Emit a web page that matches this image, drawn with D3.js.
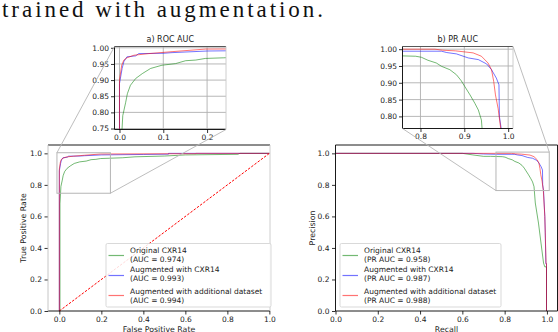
<!DOCTYPE html>
<html>
<head>
<meta charset="utf-8">
<script src="https://cdn.jsdelivr.net/npm/d3@7"></script>
<style>
  body { margin: 0; background: #fff; }
  svg { display: block; }
  text { font-family: "DejaVu Sans", sans-serif; }
  .title { font-family: "Liberation Serif", "Times New Roman", serif; font-weight: normal; }
</style>
</head>
<body>
<div id="main"></div>
<script>
// ROC curves: [false positive rate, true positive rate]
const rocOriginal = [[0,0],[0.003,0],[0.003,0.68],[0.0075,0.79],[0.014,0.83],[0.018,0.858],[0.025,0.884],[0.037,0.905],[0.052,0.92],[0.071,0.936],[0.097,0.946],[0.128,0.951],[0.151,0.96],[0.174,0.962],[0.196,0.967],[0.238,0.969],[0.3,0.972],[0.36,0.978],[0.5,0.983],[0.6,0.99],[0.85,0.994],[0.86,1],[1,1]];
const rocAugCxr = [[0,0],[0,0.889],[0.006,0.936],[0.01,0.957],[0.017,0.972],[0.037,0.975],[0.044,0.982],[0.1,0.983],[0.12,0.985],[0.2,0.99],[0.4,0.993],[0.52,0.995],[0.52,1],[1,1]];
const rocAugExtra = [[0,0],[0,0.9],[0.005,0.946],[0.01,0.962],[0.017,0.969],[0.033,0.977],[0.067,0.982],[0.12,0.988],[0.196,0.996],[0.65,0.998],[0.65,1],[1,1]];

// PR curves: [recall, precision]
const prOriginal = [[0,1],[0.6,1],[0.65,0.99],[0.7,0.981],[0.733,0.981],[0.789,0.979],[0.802,0.976],[0.817,0.967],[0.836,0.959],[0.848,0.949],[0.867,0.939],[0.882,0.924],[0.893,0.906],[0.901,0.889],[0.913,0.864],[0.924,0.839],[0.932,0.819],[0.939,0.789],[0.945,0.685],[0.96,0.558],[0.972,0.431],[0.984,0.304],[0.99,0.28],[0.998,0.28],[0.998,0]];
const prAugCxr = [[0,1],[0.65,1],[0.7,0.996],[0.758,0.994],[0.848,0.994],[0.86,0.99],[0.882,0.986],[0.909,0.974],[0.932,0.969],[0.951,0.956],[0.962,0.939],[0.973,0.914],[0.979,0.894],[0.98,0.8],[0.984,0.764],[0.99,0.6],[0.992,0.5],[0.995,0.3],[0.998,0.3],[0.998,0]];
const prAugExtra = [[0,1],[0.833,1],[0.85,0.997],[0.88,0.995],[0.92,0.989],[0.939,0.979],[0.954,0.959],[0.962,0.939],[0.967,0.904],[0.971,0.864],[0.977,0.824],[0.983,0.764],[0.99,0.6],[0.993,0.45],[0.996,0.3],[0.998,0.3],[0.998,0]];

const seriesNames = ["Original CXR14", "Augmented with CXR14", "Augmented with additional dataset"];
const rocAuc = ["0.974", "0.993", "0.994"];
const prAuc = ["0.958", "0.987", "0.988"];
const seriesColors = ["#008000", "#0000ff", "#ff0000"];
const legendColors = ["#73b973", "#7373ff", "#ff7373"];

const mainTicks = [0, 0.2, 0.4, 0.6, 0.8, 1.0];
const rocInsetXTicks = [0, 0.1, 0.2];
const rocInsetYTicks = [0.75, 0.80, 0.85, 0.90, 0.95, 1.00];
const prInsetXTicks = [0.8, 0.9, 1.0];
const prInsetYTicks = [0.80, 0.85, 0.90, 0.95, 1.00];

const svg = d3.select("#main").append("svg")
  .attr("width", 558).attr("height", 332);

svg.append("text")
  .attr("class", "title")
  .attr("x", 2).attr("y", 16.5)
  .attr("font-size", 23)
  .attr("fill", "#111")
  .attr("textLength", 321)
  .attr("lengthAdjust", "spacing")
  .text("trained with augmentation.");

const defs = svg.append("defs");
let clipId = 0;

function clipFor(x, y) {
  const id = "clip" + (clipId++);
  defs.append("clipPath").attr("id", id).append("rect")
    .attr("x", x.range()[0]).attr("y", y.range()[1])
    .attr("width", x.range()[1] - x.range()[0])
    .attr("height", y.range()[0] - y.range()[1]);
  return `url(#${id})`;
}

function drawCurves(g, x, y, sets) {
  const line = d3.line().x(d => x(d[0])).y(d => y(d[1]));
  const cg = g.append("g").attr("clip-path", clipFor(x, y));
  sets.forEach((s, i) => {
    cg.append("path")
      .attr("d", line(s))
      .attr("fill", "none")
      .attr("stroke", seriesColors[i])
      .attr("stroke-opacity", 0.55)
      .attr("stroke-width", 1);
  });
  return cg;
}

function spines(g, x, y, colors) {
  const [x0, x1] = x.range(), [y0, y1] = y.range();
  const sides = [
    [x0, y1, x1, y1, colors.top],
    [x0, y0, x1, y0, colors.bottom],
    [x0, y0, x0, y1, colors.left],
    [x1, y0, x1, y1, colors.right]
  ];
  sides.forEach(s => g.append("line")
    .attr("x1", s[0]).attr("y1", s[1]).attr("x2", s[2]).attr("y2", s[3])
    .attr("stroke", s[4]).attr("stroke-width", 0.9));
}

function styleAxis(a) {
  a.select(".domain").remove();
  a.selectAll(".tick line").attr("stroke", "#000").attr("stroke-width", 0.8);
  a.selectAll(".tick text").attr("font-size", 7.5).attr("fill", "#222")
    .attr("font-family", "DejaVu Sans, sans-serif");
}

function drawMain(opts) {
  const x = d3.scaleLinear().domain(opts.xDomain).range(opts.xRange);
  const y = d3.scaleLinear().domain([0, 1.053]).range([311, 145]);
  const g = svg.append("g");

  drawCurves(g, x, y, opts.sets);
  if (opts.diagonal) {
    g.append("line")
      .attr("x1", x(0)).attr("y1", y(0)).attr("x2", x(1)).attr("y2", y(1))
      .attr("stroke", "#ff0000").attr("stroke-width", 1)
      .attr("stroke-dasharray", "2.5,1.5");
  }

  const xa = g.append("g").attr("transform", `translate(0,${y.range()[0]})`)
    .call(d3.axisBottom(x).tickValues(mainTicks).tickFormat(d3.format(".1f")).tickSize(3.5).tickPadding(2));
  styleAxis(xa);
  const ya = g.append("g").attr("transform", `translate(${x.range()[0]},0)`)
    .call(d3.axisLeft(y).tickValues(mainTicks).tickFormat(d3.format(".1f")).tickSize(3.5).tickPadding(2.5));
  styleAxis(ya);
  spines(g, x, y, opts.spineColors);

  g.append("text")
    .attr("x", (x.range()[0] + x.range()[1]) / 2).attr("y", 332)
    .attr("text-anchor", "middle").attr("font-size", 7.8).attr("fill", "#222")
    .text(opts.xLabel);
  g.append("text")
    .attr("transform", `translate(${opts.yLabelX},${228}) rotate(-90)`)
    .attr("text-anchor", "middle").attr("font-size", 7.8).attr("fill", "#222")
    .text(opts.yLabel);

  // legend
  const lg = g.append("g");
  lg.append("rect")
    .attr("x", opts.legend.x).attr("y", 243.5)
    .attr("width", opts.legend.w).attr("height", 63.5)
    .attr("rx", 1.5)
    .attr("fill", "#fff").attr("fill-opacity", 0.85)
    .attr("stroke", "#cfcfcf").attr("stroke-width", 0.8);
  const rowY = [[250, 259], [269.5, 278.5], [291, 300]];
  const handleY = [255.5, 275.5, 295.5];
  seriesNames.forEach((name, i) => {
    lg.append("line")
      .attr("x1", opts.legend.x + 2.5).attr("x2", opts.legend.x + 18)
      .attr("y1", handleY[i]).attr("y2", handleY[i])
      .attr("stroke", legendColors[i]).attr("stroke-width", 1.2);
    const tx = opts.legend.x + 24;
    lg.append("text").attr("x", tx).attr("y", rowY[i][0]).attr("dy", "0.35em")
      .attr("font-size", 7.5).attr("fill", "#222").text(name);
    lg.append("text").attr("x", tx).attr("y", rowY[i][1]).attr("dy", "0.35em")
      .attr("font-size", 7.5).attr("fill", "#222").text(`(${opts.aucLabel} = ${opts.auc[i]})`);
  });
  return { x, y, g };
}

function drawInset(opts) {
  const x = d3.scaleLinear().domain(opts.xDomain).range(opts.xRange);
  const y = d3.scaleLinear().domain(opts.yDomain).range(opts.yRange);
  const g = svg.append("g");
  g.append("rect")
    .attr("x", opts.xRange[0]).attr("y", opts.yRange[1])
    .attr("width", opts.xRange[1] - opts.xRange[0])
    .attr("height", opts.yRange[0] - opts.yRange[1])
    .attr("fill", "#fff");

  // grid
  g.append("g").selectAll("line").data(opts.xTicks).join("line")
    .attr("x1", d => x(d)).attr("x2", d => x(d))
    .attr("y1", opts.yRange[0]).attr("y2", opts.yRange[1])
    .attr("stroke", "#b0b0b0").attr("stroke-width", 0.9);
  g.append("g").selectAll("line").data(opts.yTicks).join("line")
    .attr("x1", opts.xRange[0]).attr("x2", opts.xRange[1])
    .attr("y1", d => y(d)).attr("y2", d => y(d))
    .attr("stroke", "#b0b0b0").attr("stroke-width", 0.9);

  drawCurves(g, x, y, opts.sets);

  const xa = g.append("g").attr("transform", `translate(0,${opts.yRange[0]})`)
    .call(d3.axisBottom(x).tickValues(opts.xTicks).tickFormat(d3.format(".1f")).tickSize(3.5).tickPadding(1.5));
  styleAxis(xa);
  const ya = g.append("g").attr("transform", `translate(${opts.xRange[0]},0)`)
    .call(d3.axisLeft(y).tickValues(opts.yTicks).tickFormat(d3.format(".2f")).tickSize(3.5).tickPadding(2));
  styleAxis(ya);
  spines(g, x, y, { top: "#444", bottom: "#000", left: "#000", right: "#c8c8c8" });

  g.append("text")
    .attr("x", (opts.xRange[0] + opts.xRange[1]) / 2).attr("y", opts.yRange[1] - 7)
    .attr("dy", "0.35em")
    .attr("text-anchor", "middle").attr("font-size", 8).attr("fill", "#222")
    .text(opts.title);
  return { x, y, g };
}

function zoomMarks(main, inset, corners) {
  const [ix0, ix1] = inset.x.domain(), [iy0, iy1] = inset.y.domain();
  const g = svg.append("g");
  g.append("rect")
    .attr("x", main.x(ix0)).attr("y", main.y(iy1))
    .attr("width", main.x(ix1) - main.x(ix0))
    .attr("height", main.y(iy0) - main.y(iy1))
    .attr("fill", "none").attr("stroke", "#b5b5b5").attr("stroke-width", 1);
  corners.forEach(c => {
    const dx = c[0] === "l" ? ix0 : ix1;
    const dy = c[1] === "t" ? iy1 : iy0;
    g.append("line")
      .attr("x1", main.x(dx)).attr("y1", main.y(dy))
      .attr("x2", inset.x(dx)).attr("y2", inset.y(dy))
      .attr("stroke", "#b5b5b5").attr("stroke-width", 0.9);
  });
}

const rocMain = drawMain({
  xDomain: [-0.054, 1.003], xRange: [48, 270],
  sets: [rocOriginal, rocAugCxr, rocAugExtra], diagonal: true,
  xLabel: "False Positive Rate", yLabel: "True Positive Rate", yLabelX: 26,
  spineColors: { top: "#000", bottom: "#000", left: "#c0c0c0", right: "#c8c8c8" },
  legend: { x: 106, w: 165 }, aucLabel: "AUC", auc: rocAuc
});

const prMain = drawMain({
  xDomain: [0, 1.05], xRange: [335.5, 557.5],
  sets: [prOriginal, prAugCxr, prAugExtra], diagonal: false,
  xLabel: "Recall", yLabel: "Precision", yLabelX: 315,
  spineColors: { top: "#000", bottom: "#000", left: "#000", right: "#000" },
  legend: { x: 340, w: 161 }, aucLabel: "PR AUC", auc: prAuc
});

const rocInset = drawInset({
  xDomain: [-0.0114, 0.2432], xRange: [114.5, 226],
  yDomain: [0.747, 1.004], yRange: [129.5, 46.5],
  xTicks: rocInsetXTicks, yTicks: rocInsetYTicks,
  sets: [rocOriginal, rocAugCxr, rocAugExtra], title: "a) ROC AUC"
});

const prInset = drawInset({
  xDomain: [0.759, 1.011], xRange: [402.5, 513],
  yDomain: [0.764, 1.008], yRange: [128.5, 46.5],
  xTicks: prInsetXTicks, yTicks: prInsetYTicks,
  sets: [prOriginal, prAugCxr, prAugExtra], title: "b) PR AUC"
});

zoomMarks(rocMain, rocInset, ["lt", "rb"]);
zoomMarks(prMain, prInset, ["lb", "rt"]);
</script>
</body>
</html>
